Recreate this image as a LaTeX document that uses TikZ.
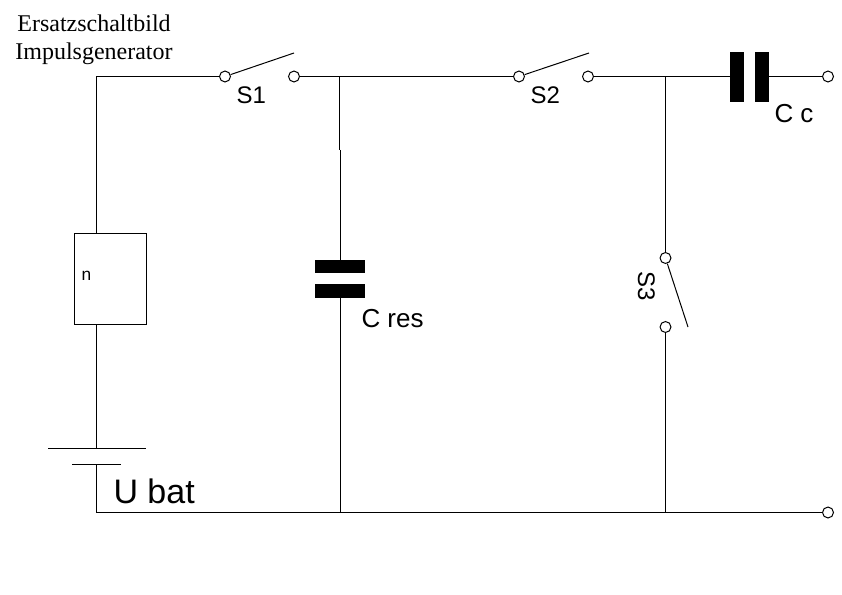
\documentclass[tikz,border=0pt]{standalone}
\usepackage{fontspec}
\setmainfont{Liberation Sans}
\newfontfamily\titlefont{Liberation Serif}

\begin{document}
\begin{tikzpicture}[x=0.75pt, y=-0.75pt, node distance={51.75pt}, line width=0.75pt,
    term/.style = {draw, circle, fill=white, inner sep=0pt, minimum size=8.2pt},
    plate/.style = {fill=black, inner sep=0pt},
    lbl/.style = {inner sep=0pt, anchor=base west, font=\fontsize{18}{20}\selectfont},
    head/.style = {inner sep=0pt, anchor=base, font=\titlefont\fontsize{18}{20}\selectfont}]
    \useasboundingbox (0,0) rectangle (842,595);
    % terminals
    \node[term] (s1a) at (225,76.5) {};
    \node[term] (s1b) [right of=s1a] {};
    \node[term] (s2a) at (519,76.5) {};
    \node[term] (s2b) [right of=s2a] {};
    \node[term] (s3a) at (665.5,258) {};
    \node[term] (s3b) [below of=s3a] {};
    \node[term] (outa) at (828,76.5) {};
    \node[term] (outb) at (828,512.5) {};
    % parts
    \node[draw, inner sep=0pt, minimum width=54pt, minimum height=68.25pt] (gen) at (110.5,279) {};
    \node[plate, minimum width=10.5pt, minimum height=37.5pt] (cc1) at (737,77) {};
    \node[plate, minimum width=10.5pt, minimum height=37.5pt] (cc2) at (762,77) {};
    \node[plate, minimum width=37.5pt, minimum height=9.4pt] (cres1) at (340,266.3) {};
    \node[plate, minimum width=37.5pt, minimum height=10.5pt] (cres2) at (340,291) {};
    % corner and junction points
    \coordinate (tl) at (96.5,76.5);
    \coordinate (gent) at (96.5,233.5);
    \coordinate (genb) at (96.5,324.5);
    \coordinate (bl) at (96.5,512.5);
    \coordinate (bat1) at (96.5,448.5);
    \coordinate (bat1l) at (48,448.5);
    \coordinate (bat1r) at (146,448.5);
    \coordinate (bat2) at (96.5,464.5);
    \coordinate (bat2l) at (72,464.5);
    \coordinate (bat2r) at (121,464.5);
    \coordinate (j1) at (339.5,76.5);
    \coordinate (j1m) at (339.5,150);
    \coordinate (j1n) at (340.5,150);
    \coordinate (j1c) at (340.5,260);
    \coordinate (j1d) at (340.5,298);
    \coordinate (j1b) at (340.5,512.5);
    \coordinate (j2) at (665.5,76.5);
    \coordinate (j2b) at (665.5,512.5);
    \coordinate (cc1w) at (730,76.5);
    \coordinate (cc2e) at (769,76.5);
    \coordinate (arm1) at (294,53);
    \coordinate (arm2) at (589,53);
    \coordinate (arm3) at (688,327);
    % wires
    \draw (s1a) -- (tl) -- (gent);
    \draw (genb) -- (bat1);
    \draw (bat1l) -- (bat1r);
    \draw (bat2l) -- (bat2r);
    \draw (bat2) -- (bl) -- (outb);
    \draw (s1b) -- (s2a);
    \draw (s2b) -- (cc1w);
    \draw (cc2e) -- (outa);
    \draw (j1) -- (j1m);
    \draw (j1n) -- (j1c);
    \draw (j1d) -- (j1b);
    \draw (j2) -- (s3a);
    \draw (s3b) -- (j2b);
    % switch arms
    \draw (s1a) -- (arm1);
    \draw (s2a) -- (arm2);
    \draw (s3a) -- (arm3);
    % labels
    \node[head] (title1) at (94,32) {Ersatzschaltbild};
    \node[head] (title2) at (94,60) {Impulsgenerator};
    \node[lbl] (s1) at (236,104) {S1};
    \node[lbl] (s2) at (530,104) {S2};
    \node[lbl, rotate=-90] (s3) at (638,271) {S3};
    \node[lbl, font=\fontsize{19.5}{22}\selectfont] (cc) at (774,122.5) {C c};
    \node[lbl, font=\fontsize{19.5}{22}\selectfont] (cres) at (361,327) {C res};
    \node[lbl, font=\fontsize{25.5}{30}\selectfont] (ubat) at (113,503) {U bat};
    \node[lbl, font=\fontsize{13}{15}\selectfont] (n) at (81,281) {n};
\end{tikzpicture}
\end{document}
